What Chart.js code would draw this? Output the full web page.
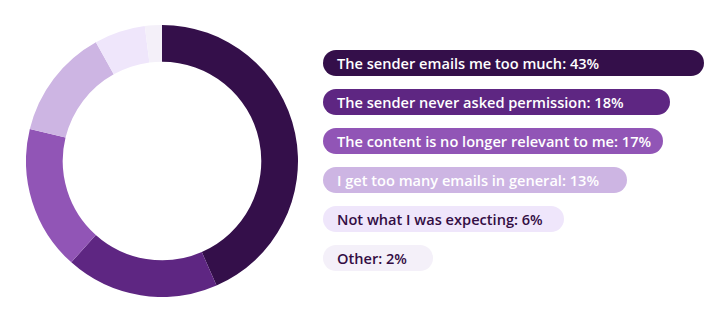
<!DOCTYPE html>
<html>
<head>
<meta charset="utf-8">
<script src="https://cdn.jsdelivr.net/npm/chart.js@4"></script>
<style>
  html, body { margin: 0; padding: 0; background: #fff; }
  .wrap { position: relative; width: 723px; height: 335px; overflow: hidden; }
  .donut { position: absolute; left: 26px; top: 25px; width: 272px; height: 272px; }
  .legend { position: absolute; left: 323px; top: 50px; }
  .pill {
    height: 26px; line-height: 26px; border-radius: 13px;
    margin-bottom: 13px; padding-left: 14px; box-sizing: border-box;
    font-family: "Open Sans", sans-serif; font-weight: 600; font-size: 14.6px;
    white-space: nowrap;
  }
</style>
</head>
<body>
<div class="wrap">
  <div class="donut"><canvas id="reasonsChart"></canvas></div>
  <div class="legend" id="legend"></div>
</div>
<script>
// Data
const reasons = [
    'The sender emails me too much',
    'The sender never asked permission',
    'The content is no longer relevant to me',
    'I get too many emails in general',
    'Not what I was expecting',
    'Other'
];
const shares = [43, 18, 17, 13, 6, 2];

// Warna dan gaya
const sliceColors = ['#340f4a', '#5e2682', '#9155b6', '#cdb5e3', '#efe6fb', '#f4f0f9'];
const textColors = ['#fff', '#fff', '#fff', '#fff', '#330d44', '#330d44'];
const pillWidths = [381, 347, 340, 304, 241, 110];

const ctx = document.getElementById('reasonsChart').getContext('2d');
const reasonsChart = new Chart(ctx, {
    type: 'doughnut',
    data: {
        labels: reasons,
        datasets: [{
            data: shares,
            backgroundColor: sliceColors,
            borderWidth: 0
        }]
    },
    options: {
        responsive: true,
        maintainAspectRatio: false,
        animation: false,
        cutout: '73%',
        layout: { padding: 0 },
        plugins: {
            legend: { display: false },
            tooltip: { enabled: false }
        }
    }
});

// Legend pil di kanan
const legend = document.getElementById('legend');
reasons.forEach((label, i) => {
    const pill = document.createElement('div');
    pill.className = 'pill';
    pill.style.background = sliceColors[i];
    pill.style.color = textColors[i];
    pill.style.width = pillWidths[i] + 'px';
    pill.textContent = label + ': ' + shares[i] + '%';
    legend.appendChild(pill);
});
</script>
</body>
</html>
